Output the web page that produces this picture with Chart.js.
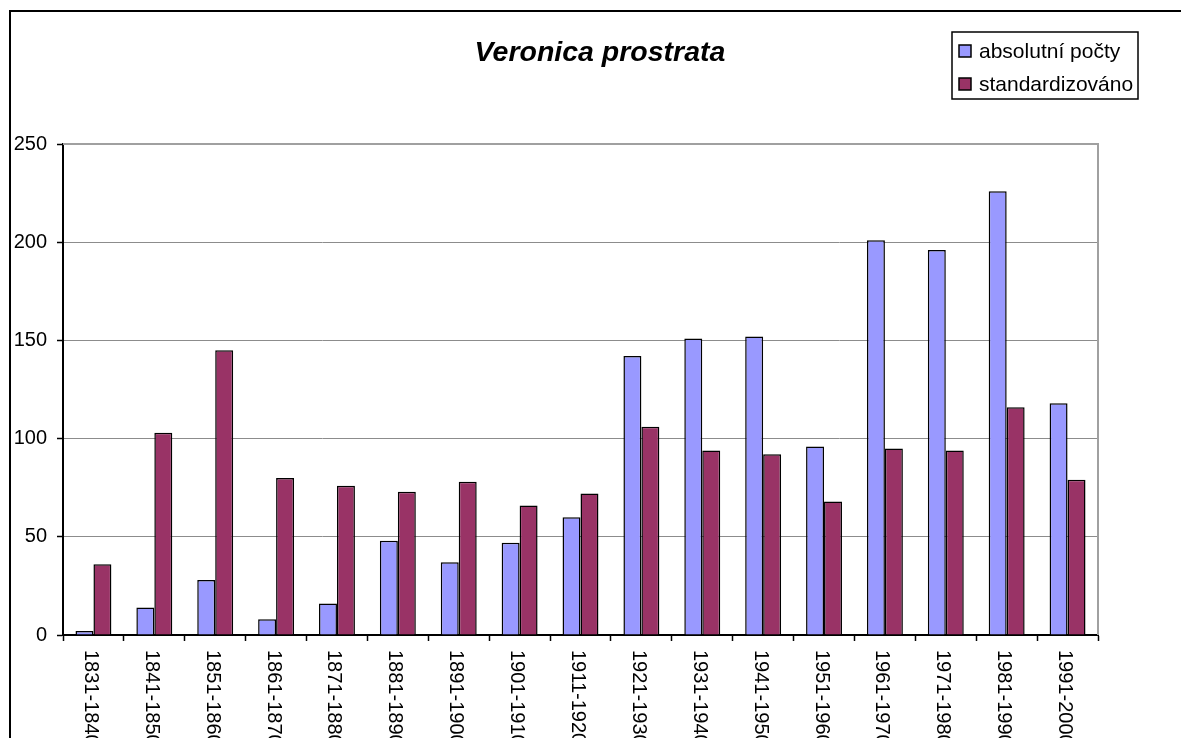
<!DOCTYPE html>
<html>
<head>
<meta charset="utf-8">
<script src="https://cdn.jsdelivr.net/npm/chart.js@4.4.0/dist/chart.umd.min.js"></script>
<style>
  body { margin: 0; background: #fff; }
  #wrap { width: 1181px; height: 738px; position: relative; }
</style>
</head>
<body>
<div id="wrap"><canvas id="barChart"></canvas></div>
<script>
// data
const periods = ['1831-1840', '1841-1850', '1851-1860', '1861-1870', '1871-1880', '1881-1890',
  '1891-1900', '1901-1910', '1911-1920', '1921-1930', '1931-1940', '1941-1950',
  '1951-1960', '1961-1970', '1971-1980', '1981-1990', '1991-2000']
const absolutni = [2, 14, 28, 8, 16, 48, 37, 47, 60, 142, 151, 152, 96, 201, 196, 226, 118]
const standard = [36, 103, 145, 80, 76, 73, 78, 66, 72, 106, 94, 92, 68, 95, 94, 116, 79]
const seriesNames = ['absolutní počty', 'standardizováno']
const chartTitle = 'Veronica prostrata'

const font = '"Liberation Sans", Arial, sans-serif'

// frame, title, legend, plot border and the rotated x labels
const decorations = {
  id: 'decorations',
  beforeDraw(chart) {
    const ctx = chart.ctx
    ctx.save()
    ctx.fillStyle = '#fff'
    ctx.fillRect(0, 0, chart.width, chart.height)
    ctx.strokeStyle = '#000'
    ctx.lineWidth = 2
    ctx.strokeRect(10, 11, chart.width + 20, chart.height + 20)
    ctx.restore()
  },
  afterDatasetsDraw(chart) {
    const ctx = chart.ctx
    const area = chart.chartArea
    ctx.save()
    // top and right plot border
    ctx.strokeStyle = '#a0a0a0'
    ctx.lineWidth = 2
    ctx.beginPath()
    ctx.moveTo(area.left, area.top)
    ctx.lineTo(area.right, area.top)
    ctx.lineTo(area.right, area.bottom)
    ctx.stroke()
    ctx.restore()
  },
  afterDraw(chart) {
    const ctx = chart.ctx
    ctx.save()

    // title
    ctx.fillStyle = '#000'
    ctx.font = 'italic bold 28.5px ' + font
    ctx.textAlign = 'center'
    ctx.textBaseline = 'alphabetic'
    ctx.fillText(chartTitle, 600, 61)

    // legend
    ctx.lineWidth = 1.5
    ctx.strokeStyle = '#000'
    ctx.strokeRect(952, 32, 186, 67)
    ctx.font = '21px ' + font
    ctx.textAlign = 'left'
    ctx.textBaseline = 'middle'
    chart.data.datasets.forEach((ds, i) => {
      const y = 45 + i * 33
      ctx.fillStyle = ds.backgroundColor
      ctx.fillRect(959, y, 12, 12)
      ctx.lineWidth = 1.5
      ctx.strokeRect(959, y, 12, 12)
      ctx.fillStyle = '#000'
      ctx.fillText(ds.label, 979, y + 7)
    })

    // x labels, rotated clockwise
    const xs = chart.scales.x
    ctx.font = '20px ' + font
    ctx.textAlign = 'left'
    ctx.textBaseline = 'middle'
    chart.data.labels.forEach((lab, i) => {
      const x = xs.getPixelForValue(i) - 3
      ctx.save()
      ctx.translate(x, xs.top + 15)
      ctx.rotate(Math.PI / 2)
      ctx.fillText(lab, 0, 0)
      ctx.restore()
    })
    ctx.restore()
  }
}

const ctxB = document.getElementById('barChart').getContext('2d')
const barChart = new Chart(ctxB, {
  type: 'bar',
  data: {
    labels: periods,
    datasets: [
      {
        label: seriesNames[0],
        data: absolutni,
        backgroundColor: '#9999FF',
        borderColor: '#000',
        borderWidth: 1.5
      },
      {
        label: seriesNames[1],
        data: standard,
        backgroundColor: '#993366',
        borderColor: '#000',
        borderWidth: 1.5
      }
    ]
  },
  options: {
    responsive: true,
    maintainAspectRatio: false,
    animation: false,
    events: [],
    layout: { padding: { left: 0, right: 83, top: 144, bottom: 0 } },
    datasets: { bar: { categoryPercentage: 0.59, barPercentage: 1 } },
    plugins: {
      legend: { display: false },
      title: { display: false },
      tooltip: { enabled: false }
    },
    scales: {
      x: {
        offset: true,
        ticks: { display: false },
        grid: {
          offset: true,
          drawOnChartArea: false,
          drawTicks: true,
          tickLength: 6,
          tickColor: '#000',
          tickWidth: 1.5
        },
        border: { color: '#000', width: 2 },
        afterFit(scale) { scale.height = 103 }
      },
      y: {
        min: 0,
        max: 250,
        ticks: {
          stepSize: 50,
          padding: 10,
          color: '#000',
          font: { family: font, size: 20 }
        },
        grid: {
          color: '#8c8c8c',
          lineWidth: 1,
          tickLength: 6,
          tickColor: '#000',
          tickWidth: 1.5
        },
        border: { color: '#000', width: 2 },
        afterFit(scale) { scale.width = 63 }
      }
    }
  },
  plugins: [decorations]
})
</script>
</body>
</html>
